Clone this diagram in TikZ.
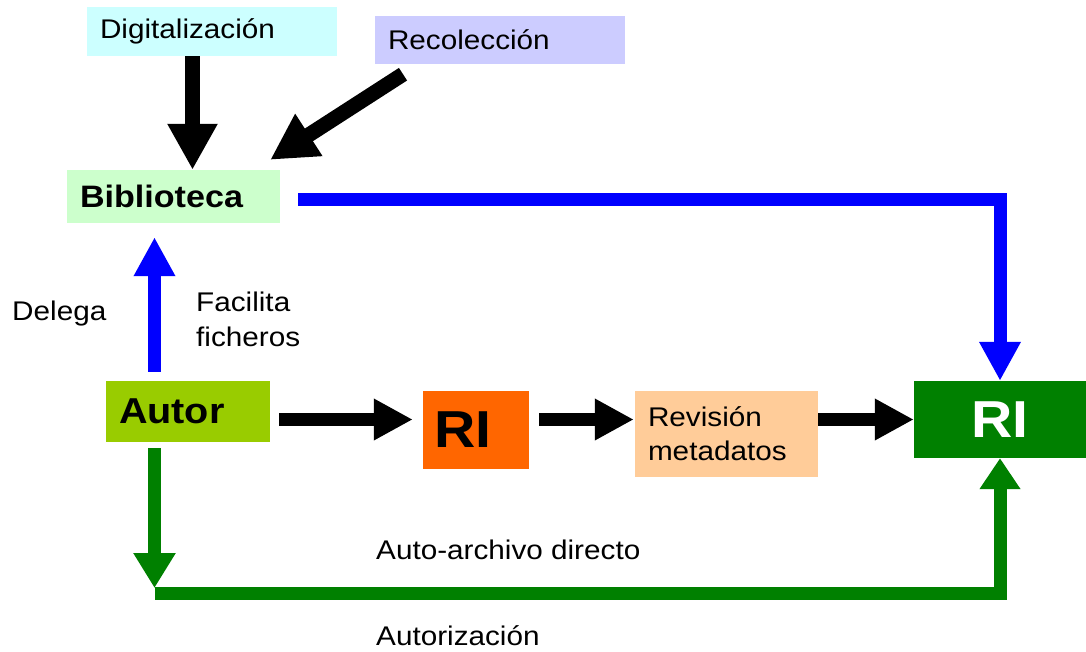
\documentclass[tikz,border=0pt]{standalone}
\usepackage{fontspec}
\setmainfont{Liberation Sans}[FakeStretch=1.1]
\usetikzlibrary{arrows.meta,positioning}

\definecolor{digi}{HTML}{CCFFFF}
\definecolor{recol}{HTML}{CCCCFF}
\definecolor{biblio}{HTML}{CCFFCC}
\definecolor{autorc}{HTML}{99CC00}
\definecolor{rinar}{HTML}{FF6600}
\definecolor{revis}{HTML}{FFCC99}
\definecolor{verde}{HTML}{008000}
\definecolor{azul}{HTML}{0000FF}

\tikzset{
  caja/.style={inner xsep=13pt, inner ysep=0pt, align=left},
  texto/.style={font=\fontsize{27}{34}\selectfont},
  etiq/.style={texto, anchor=base west, inner sep=0pt},
  flecha/.style={line width=13pt, -{Triangle[length=39pt,width=39pt]}},
  gruesa/.style={line width=15pt, -{Triangle[length=46pt,width=47pt]}}
}

\begin{document}
\begin{tikzpicture}[x=1pt,y=-1pt]
        \useasboundingbox (0,0) rectangle (1086,651);
        % cajas
        \node[caja, texto, fill=digi, text width=224pt, minimum height=49pt] (dig) at (212,31.5) {Digitalización};
        \node[caja, texto, fill=recol, text width=224pt, minimum height=48pt] (rec) at (500,40) {Recolección};
        \node[caja, fill=biblio, text width=187pt, minimum height=53pt, font=\fontsize{31}{36}\selectfont\bfseries] (bib) at (173.5,196.5) {Biblioteca};
        \node[caja, fill=autorc, text width=138pt, minimum height=61pt, font=\fontsize{36}{42}\selectfont\bfseries] (autor) at (188,411.5) {Autor};
        \node[caja, fill=rinar, inner xsep=11pt, text width=84pt, minimum height=78pt, font=\fontsize{52}{60}\selectfont\bfseries] (ri1) at (476,430) {RI};
        \node[caja, texto, fill=revis, text width=157pt, minimum height=86pt] (rev) at (726.5,434) {Revisión\\metadatos};
        \node[caja, fill=verde, text=white, align=center, text width=146pt, minimum height=77pt, font=\fontsize{52}{60}\selectfont\bfseries] (ri2) at (1000,419.5) {RI};
        % textos
        \node[etiq] (delega) at (12,320) {Delega};
        \node[etiq, align=left, font=\fontsize{27}{35}\selectfont] (facil) at (196,346) {Facilita\\ficheros};
        \node[etiq] (auto) at (376,559) {Auto-archivo directo};
        \node[etiq] (autoriz) at (376,645) {Autorización};
        \coordinate (esq) at (154.5,593.5);
        % flechas
        \draw[gruesa] ([xshift=-19.5pt]dig.south) -- ([xshift=19pt]bib.north);
        \draw[gruesa] ([shift={(-97,10)}]rec.south) -- ([shift={(-10,-10)}]bib.north east);
        \draw[flecha, azul] ([shift={(-33.5,-9)}]autor.north) -- ([shift={(-19,14)}]bib.south);
        \draw[flecha, azul] ([shift={(18,2.5)}]bib.east) -| (ri2.north);
        \draw[flecha] ([shift={(9,8)}]autor.east) -- ([shift={(-10,-10.5)}]ri1.west);
        \draw[flecha] ([shift={(10,-10.5)}]ri1.east) -- ([shift={(-1,-14.5)}]rev.west);
        \draw[flecha] ([shift={(0,-14.5)}]rev.east) -- (ri2.west);
        \draw[flecha, verde, -{Triangle[length=35pt,width=40pt]}] ([shift={(-33.5,6)}]autor.south) -- ([shift={(0,-5.5)}]esq);
        \draw[flecha, verde, -{Triangle[length=31pt,width=39pt]}] (esq) -| (ri2.south);
    \end{tikzpicture}
\end{document}
